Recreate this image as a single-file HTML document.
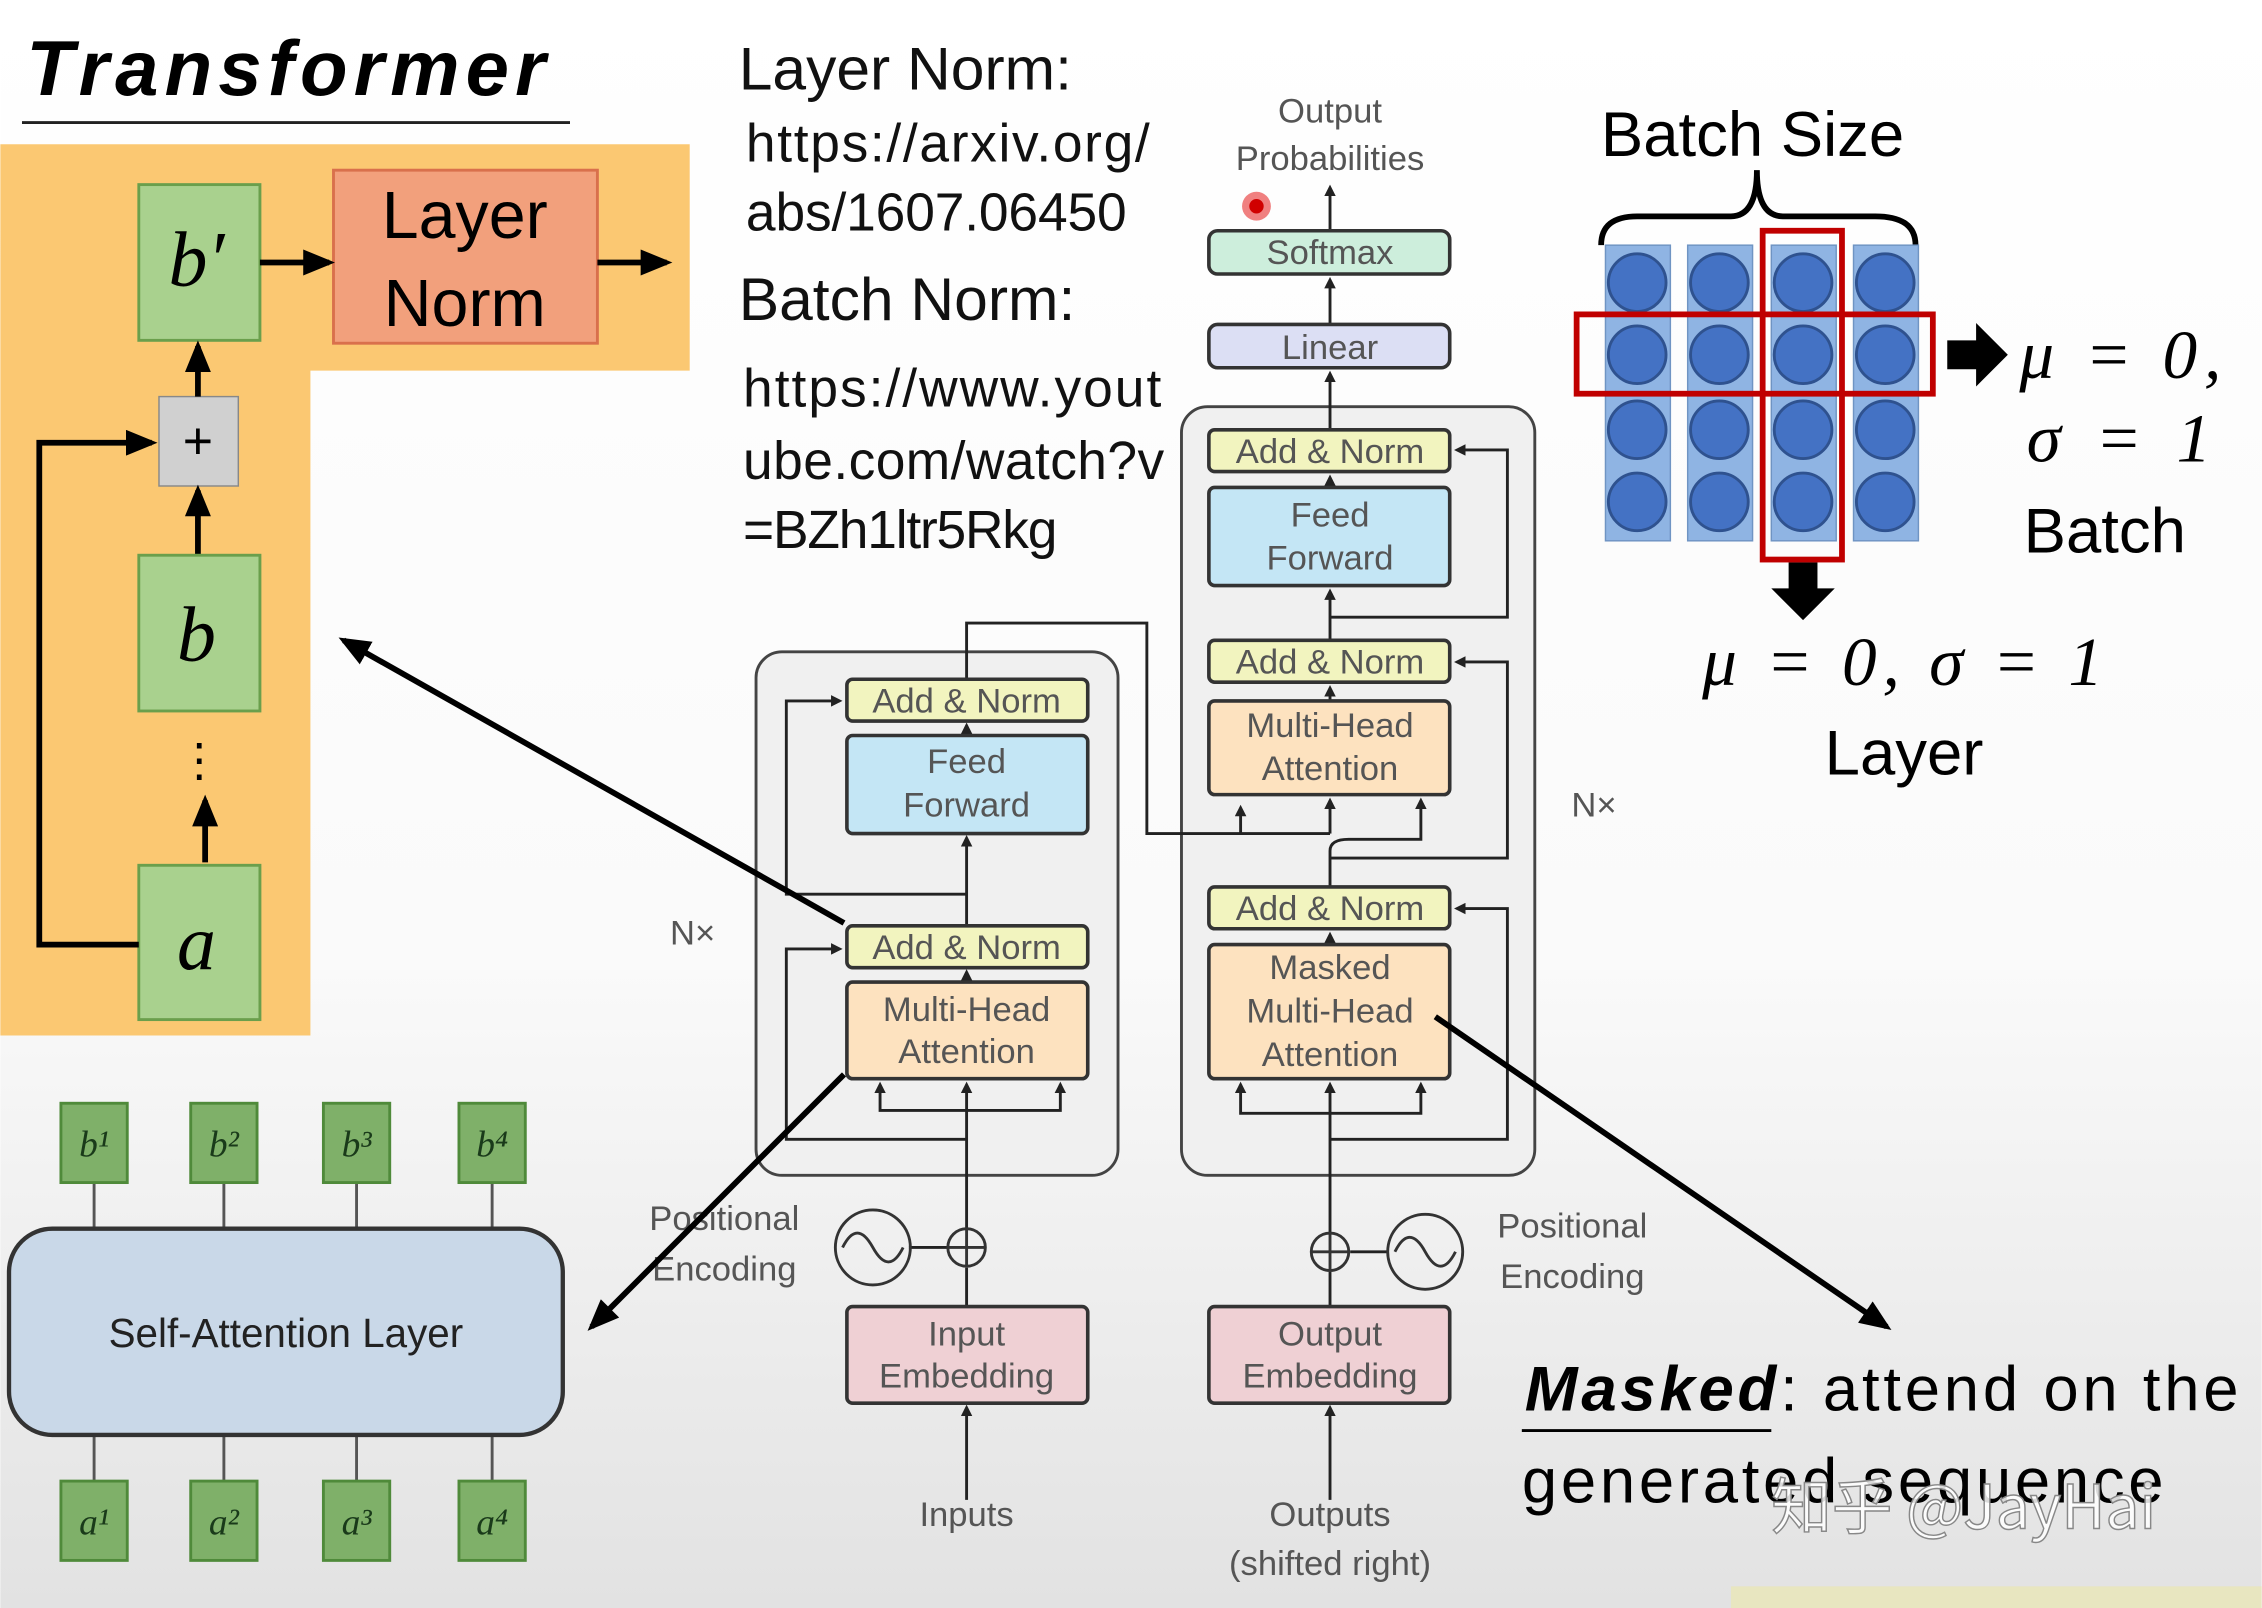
<!DOCTYPE html>
<html><head><meta charset="utf-8"><style>
html,body{margin:0;padding:0;width:2262px;height:1608px;overflow:hidden;background:#fff}
svg{display:block}
.s{font-family:"Liberation Sans",sans-serif}
.g{font-family:"Liberation Sans",sans-serif;fill:#555;font-size:24px;text-anchor:middle}
.m{font-family:"Liberation Serif",serif;font-style:italic}
</style></head><body>
<svg width="2262" height="1608" viewBox="0 0 1568 1115" xmlns="http://www.w3.org/2000/svg">
<defs>
<linearGradient id="bg" x1="0" y1="0" x2="0" y2="1">
<stop offset="0" stop-color="#ffffff"/><stop offset="0.6" stop-color="#fafafa"/><stop offset="1" stop-color="#e2e2e2"/>
</linearGradient>
<marker id="ah" markerWidth="8" markerHeight="8" refX="6" refY="4" orient="auto" markerUnits="userSpaceOnUse"><path d="M0,0 L8,4 L0,8z" fill="#222"/></marker>
<marker id="bh" markerWidth="22" markerHeight="18" refX="18" refY="9" orient="auto" markerUnits="userSpaceOnUse"><path d="M0,0 L22,9 L0,18z" fill="#000"/></marker>
</defs>
<rect width="1568" height="1115" fill="url(#bg)"/>
<rect x="1200" y="1100" width="368" height="15" fill="#e8e6c0"/>

<!-- Left panel -->
<text x="18" y="66" class="s" font-size="54" font-weight="bold" font-style="italic" textLength="360">Transformer</text>
<line x1="15" y1="85" x2="395" y2="85" stroke="#222" stroke-width="2"/>
<path d="M0,100 H478 V257 H215 V718 H0Z" fill="#fbc872"/>
<rect x="96" y="128" width="84" height="108" fill="#a9d18e" stroke="#6a9f4c" stroke-width="2"/>
<text x="136" y="198" class="m" font-size="54" text-anchor="middle">b′</text>
<rect x="231" y="118" width="183" height="120" fill="#f2a07c" stroke="#d9704c" stroke-width="2"/>
<text x="322" y="165" class="s" font-size="46" text-anchor="middle">Layer</text>
<text x="322" y="226" class="s" font-size="46" text-anchor="middle">Norm</text>
<line x1="180" y1="182" x2="228" y2="182" stroke="#000" stroke-width="4" marker-end="url(#bh)"/>
<line x1="414" y1="182" x2="462" y2="182" stroke="#000" stroke-width="4" marker-end="url(#bh)"/>
<rect x="110" y="275" width="55" height="62" fill="#d0d0d0" stroke="#888"/>
<text x="137" y="318" class="s" font-size="36" text-anchor="middle">+</text>
<line x1="137" y1="275" x2="137" y2="240" stroke="#000" stroke-width="4" marker-end="url(#bh)"/>
<line x1="137" y1="385" x2="137" y2="340" stroke="#000" stroke-width="4" marker-end="url(#bh)"/>
<rect x="96" y="385" width="84" height="108" fill="#a9d18e" stroke="#6a9f4c" stroke-width="2"/>
<text x="136" y="458" class="m" font-size="54" text-anchor="middle">b</text>
<text x="138" y="538" class="s" font-size="32" text-anchor="middle">⋮</text>
<line x1="142" y1="598" x2="142" y2="555" stroke="#000" stroke-width="4" marker-end="url(#bh)"/>
<rect x="96" y="600" width="84" height="107" fill="#a9d18e" stroke="#6a9f4c" stroke-width="2"/>
<text x="136" y="672" class="m" font-size="54" text-anchor="middle">a</text>
<path d="M96,655 H27 V307 H105" fill="none" stroke="#000" stroke-width="4" marker-end="url(#bh)"/>

<!-- Self attention -->
<g stroke="#555" stroke-width="2">
<line x1="65" y1="820" x2="65" y2="852"/><line x1="155" y1="820" x2="155" y2="852"/><line x1="247" y1="820" x2="247" y2="852"/><line x1="341" y1="820" x2="341" y2="852"/>
<line x1="65" y1="995" x2="65" y2="1027"/><line x1="155" y1="995" x2="155" y2="1027"/><line x1="247" y1="995" x2="247" y2="1027"/><line x1="341" y1="995" x2="341" y2="1027"/>
</g>
<g fill="#7fb069" stroke="#4f8a3a" stroke-width="2">
<rect x="42" y="765" width="46" height="55"/><rect x="132" y="765" width="46" height="55"/><rect x="224" y="765" width="46" height="55"/><rect x="318" y="765" width="46" height="55"/>
<rect x="42" y="1027" width="46" height="55"/><rect x="132" y="1027" width="46" height="55"/><rect x="224" y="1027" width="46" height="55"/><rect x="318" y="1027" width="46" height="55"/>
</g>
<g class="m" font-size="26" text-anchor="middle" fill="#1a3a1a">
<text x="65" y="802">b¹</text><text x="155" y="802">b²</text><text x="247" y="802">b³</text><text x="341" y="802">b⁴</text>
<text x="65" y="1064">a¹</text><text x="155" y="1064">a²</text><text x="247" y="1064">a³</text><text x="341" y="1064">a⁴</text>
</g>
<rect x="6" y="852" width="384" height="143" rx="30" fill="#c9d8e8" stroke="#333" stroke-width="3"/>
<text x="198" y="934" class="s" font-size="28" text-anchor="middle" fill="#222">Self-Attention Layer</text>

<!-- Links text -->
<g class="s" fill="#111">
<text x="512" y="62" font-size="42">Layer Norm:</text>
<text x="517" y="112" font-size="37" textLength="280">https://arxiv.org/</text>
<text x="517" y="160" font-size="37" textLength="264">abs/1607.06450</text>
<text x="512" y="222" font-size="42">Batch Norm:</text>
<text x="515" y="282" font-size="37" textLength="290">https://www.yout</text>
<text x="515" y="332" font-size="37" textLength="292">ube.com/watch?v</text>
<text x="515" y="380" font-size="37" textLength="218">=BZh1ltr5Rkg</text>
</g>

<!-- Transformer diagram -->
<rect x="524" y="452" width="251" height="363" rx="18" fill="#f0f0f0" stroke="#444" stroke-width="2"/>
<rect x="819" y="282" width="245" height="533" rx="18" fill="#f0f0f0" stroke="#444" stroke-width="2"/>
<g fill="none" stroke="#222" stroke-width="2">
<line x1="670" y1="1040" x2="670" y2="976" marker-end="url(#ah)"/>
<line x1="670" y1="906" x2="670" y2="879"/>
<line x1="670" y1="852" x2="670" y2="752" marker-end="url(#ah)"/>
<line x1="630" y1="865" x2="657" y2="865"/>
<path d="M670,790 H545 V658 H582" marker-end="url(#ah)"/>
<path d="M670,770 H610 V752" marker-end="url(#ah)"/><path d="M670,770 H735 V752" marker-end="url(#ah)"/>
<line x1="670" y1="681" x2="670" y2="674" marker-end="url(#ah)"/>
<line x1="670" y1="642" x2="670" y2="581" marker-end="url(#ah)"/>
<path d="M670,620 H545 V486 H582" marker-end="url(#ah)"/>
<line x1="670" y1="510" x2="670" y2="503" marker-end="url(#ah)"/>
<path d="M670,471 V432 H795 V578 H860 V560" marker-end="url(#ah)"/>
<path d="M860,578 H922" />
<line x1="922" y1="578" x2="922" y2="555" marker-end="url(#ah)"/>
<line x1="922" y1="1040" x2="922" y2="976" marker-end="url(#ah)"/>
<line x1="922" y1="906" x2="922" y2="882"/>
<line x1="922" y1="855" x2="922" y2="752" marker-end="url(#ah)"/>
<line x1="936" y1="868" x2="962" y2="868"/>
<path d="M922,790 H1045 V630 H1010" marker-end="url(#ah)"/>
<path d="M922,772 H860 V752" marker-end="url(#ah)"/><path d="M922,772 H985 V752" marker-end="url(#ah)"/>
<line x1="922" y1="655" x2="922" y2="648" marker-end="url(#ah)"/>
<path d="M922,615 V590 Q922,582 935,582 H985 V555" marker-end="url(#ah)"/>
<path d="M922,595 H1045 V459 H1010" marker-end="url(#ah)"/>
<line x1="922" y1="486" x2="922" y2="477" marker-end="url(#ah)"/>
<line x1="922" y1="444" x2="922" y2="410" marker-end="url(#ah)"/>
<path d="M922,428 H1045 V312 H1010" marker-end="url(#ah)"/>
<line x1="922" y1="338" x2="922" y2="331" marker-end="url(#ah)"/>
<line x1="922" y1="298" x2="922" y2="259" marker-end="url(#ah)"/>
<line x1="922" y1="225" x2="922" y2="194" marker-end="url(#ah)"/>
<line x1="922" y1="160" x2="922" y2="130" marker-end="url(#ah)"/>
</g>
<g stroke="#333" stroke-width="2.5">
<rect x="587" y="471" width="167" height="29" rx="4" fill="#f2f4bf"/>
<rect x="587" y="510" width="167" height="68" rx="4" fill="#c4e6f5"/>
<rect x="587" y="642" width="167" height="29" rx="4" fill="#f2f4bf"/>
<rect x="587" y="681" width="167" height="67" rx="4" fill="#fde2bf"/>
<rect x="838" y="298" width="167" height="29" rx="4" fill="#f2f4bf"/>
<rect x="838" y="338" width="167" height="68" rx="4" fill="#c4e6f5"/>
<rect x="838" y="444" width="167" height="29" rx="4" fill="#f2f4bf"/>
<rect x="838" y="486" width="167" height="65" rx="4" fill="#fde2bf"/>
<rect x="838" y="615" width="167" height="29" rx="4" fill="#f2f4bf"/>
<rect x="838" y="655" width="167" height="93" rx="4" fill="#fde2bf"/>
<rect x="838" y="225" width="167" height="30" rx="6" fill="#dcdff4"/>
<rect x="838" y="160" width="167" height="30" rx="6" fill="#cdeedc"/>
<rect x="587" y="906" width="167" height="67" rx="4" fill="#efd0d4"/>
<rect x="838" y="906" width="167" height="67" rx="4" fill="#efd0d4"/>
</g>
<g fill="none" stroke="#333" stroke-width="2">
<circle cx="605" cy="865" r="26"/><path d="M584,865 Q594,845 605,865 T626,865"/>
<circle cx="670" cy="865" r="13"/><path d="M657,865 H683 M670,852 V878"/>
<circle cx="922" cy="868" r="13"/><path d="M909,868 H935 M922,855 V881"/>
<circle cx="988" cy="868" r="26"/><path d="M967,868 Q977,848 988,868 T1009,868"/>
</g>
<g class="g">
<text x="670" y="494">Add &amp; Norm</text>
<text x="670" y="536">Feed</text><text x="670" y="566">Forward</text>
<text x="670" y="665">Add &amp; Norm</text>
<text x="670" y="708">Multi-Head</text><text x="670" y="737">Attention</text>
<text x="922" y="321">Add &amp; Norm</text>
<text x="922" y="365">Feed</text><text x="922" y="395">Forward</text>
<text x="922" y="467">Add &amp; Norm</text>
<text x="922" y="511">Multi-Head</text><text x="922" y="541">Attention</text>
<text x="922" y="638">Add &amp; Norm</text>
<text x="922" y="679">Masked</text><text x="922" y="709">Multi-Head</text><text x="922" y="739">Attention</text>
<text x="922" y="249">Linear</text>
<text x="922" y="183">Softmax</text>
<text x="922" y="85">Output</text><text x="922" y="118">Probabilities</text>
<text x="670" y="933">Input</text><text x="670" y="962">Embedding</text>
<text x="922" y="933">Output</text><text x="922" y="962">Embedding</text>
<text x="670" y="1058">Inputs</text>
<text x="922" y="1058">Outputs</text><text x="922" y="1092">(shifted right)</text>
<text x="502" y="853">Positional</text><text x="502" y="888">Encoding</text>
<text x="1090" y="858">Positional</text><text x="1090" y="893">Encoding</text>
<text x="480" y="655">N×</text><text x="1105" y="566">N×</text>
</g>
<circle cx="871" cy="143" r="10" fill="#f08080"/><circle cx="871" cy="143" r="5" fill="#d00000"/>

<!-- Batch / layer illustration -->
<text x="1215" y="108" class="s" font-size="44" text-anchor="middle">Batch Size</text>
<path d="M1110,170 Q1110,150 1135,150 H1200 Q1218,150 1218,118 Q1218,150 1236,150 H1300 Q1328,150 1328,170" fill="none" stroke="#000" stroke-width="4"/>
<g fill="#8fb4e3" stroke="#6f94c3">
<rect x="1113" y="170" width="45" height="205"/><rect x="1170" y="170" width="45" height="205"/><rect x="1228" y="170" width="45" height="205"/><rect x="1285" y="170" width="45" height="205"/>
</g>
<g fill="#4472c4" stroke="#2f528f" stroke-width="2">
<circle cx="1135" cy="196" r="20"/><circle cx="1192" cy="196" r="20"/><circle cx="1250" cy="196" r="20"/><circle cx="1307" cy="196" r="20"/>
<circle cx="1135" cy="246" r="20"/><circle cx="1192" cy="246" r="20"/><circle cx="1250" cy="246" r="20"/><circle cx="1307" cy="246" r="20"/>
<circle cx="1135" cy="298" r="20"/><circle cx="1192" cy="298" r="20"/><circle cx="1250" cy="298" r="20"/><circle cx="1307" cy="298" r="20"/>
<circle cx="1135" cy="348" r="20"/><circle cx="1192" cy="348" r="20"/><circle cx="1250" cy="348" r="20"/><circle cx="1307" cy="348" r="20"/>
</g>
<rect x="1093" y="218" width="247" height="55" fill="none" stroke="#c00000" stroke-width="4"/>
<rect x="1222" y="160" width="55" height="228" fill="none" stroke="#c00000" stroke-width="4"/>
<path d="M1350,236 H1370 V224 L1392,246 L1370,268 V256 H1350Z" fill="#000"/>
<path d="M1240,390 H1260 V408 H1272 L1250,430 L1228,408 H1240Z" fill="#000"/>
<text x="1400" y="262" class="m" font-size="48" textLength="140">μ = 0,</text>
<text x="1405" y="320" class="m" font-size="48" textLength="128">σ = 1</text>
<text x="1403" y="383" class="s" font-size="44">Batch</text>
<text x="1180" y="475" class="m" font-size="48" textLength="278">μ = 0, σ = 1</text>
<text x="1265" y="537" class="s" font-size="44">Layer</text>

<!-- Masked -->
<text x="1057" y="978" class="s" font-size="44" textLength="495"><tspan font-weight="bold" font-style="italic">Masked</tspan>: attend on the</text>
<line x1="1055" y1="992" x2="1228" y2="992" stroke="#000" stroke-width="2"/>
<text x="1055" y="1042" class="s" font-size="44" textLength="445">generated sequence</text>
<text x="1228" y="1060" font-family="'Noto Sans CJK SC',sans-serif" font-size="42" fill="#fff" fill-opacity="0.85" stroke="#888" stroke-width="1">知乎 @JayHai</text>

<!-- Big arrows on top -->
<line x1="585" y1="640" x2="238" y2="444" stroke="#000" stroke-width="4" marker-end="url(#bh)"/>
<line x1="585" y1="745" x2="410" y2="920" stroke="#000" stroke-width="4" marker-end="url(#bh)"/>
<line x1="995" y1="705" x2="1308" y2="920" stroke="#000" stroke-width="4" marker-end="url(#bh)"/>
</svg>
</body></html>
